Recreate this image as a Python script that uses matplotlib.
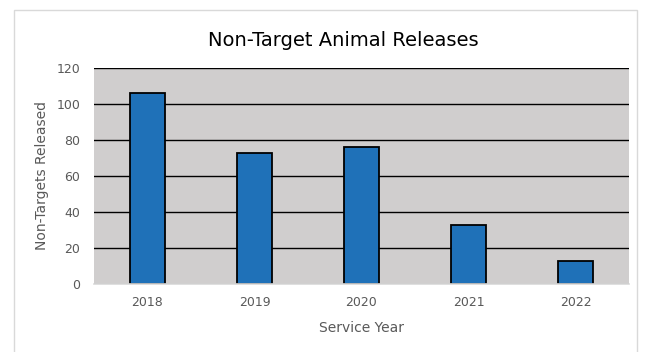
import numpy as np
import matplotlib.pyplot as plt
from matplotlib.patches import Rectangle

# Chart data.
years = ['2018', '2019', '2020', '2021', '2022']
released = [106, 73, 76, 33, 13]

fig = plt.figure(figsize=(6.47, 3.52), dpi=100)

# Outer chart frame (drawn behind the axes), runs off the bottom edge.
fig.patches.append(Rectangle((14/647, -10/352), 623/647, 352/352, transform=fig.transFigure,
                             facecolor='white', edgecolor='#d9d9d9', lw=1, zorder=-5))

ax = fig.add_axes([94/647, 1 - 284/352, 535/647, 216/352])
ax.set_facecolor('#d0cece')
x = np.arange(len(years))
ax.bar(x, released, width=0.33, color='#1f71b8', edgecolor='black', lw=1.3, zorder=3)

ax.set_xlim(-0.5, len(years) - 0.5)
ax.set_ylim(0, 120)
ax.set_yticks(range(0, 121, 20))
ax.set_xticks(x)
ax.set_xticklabels(years)
ax.yaxis.grid(True, color='black', lw=1, zorder=1)
ax.set_axisbelow(True)
for s in ['left', 'right', 'top']:
    ax.spines[s].set_visible(False)
ax.spines['bottom'].set_color('#d9d9d9')
ax.spines['bottom'].set_linewidth(1.2)
ax.spines['bottom'].set_zorder(4)
ax.tick_params(axis='y', length=0, labelsize=9, colors='#595959', pad=10)
ax.tick_params(axis='x', length=0, labelsize=9, colors='#595959', pad=9)

ax.set_xlabel('Service Year', fontsize=10, color='#595959', labelpad=8)
ax.set_ylabel('Non-Targets Released', fontsize=10, color='#595959', labelpad=5)
fig.text(0.53, 1 - 40/352, 'Non-Target Animal Releases', ha='center', va='center',
         fontsize=14, color='black')

fig.savefig('out.png', dpi=100)
